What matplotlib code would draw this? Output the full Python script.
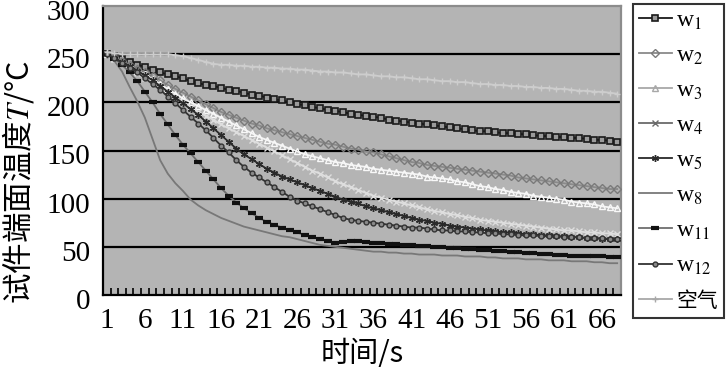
import matplotlib
matplotlib.use("Agg")
import matplotlib.pyplot as plt
from matplotlib.ticker import FixedLocator
from matplotlib.transforms import ScaledTranslation

plt.rcParams.update({
    "font.family": ["Liberation Serif", "Noto Sans CJK SC"],
    "mathtext.fontset": "stix",
})

# =========================
# Data
# =========================
t = list(range(1, 69))

w1 = [250, 248, 245, 242, 239, 237, 234, 231, 229, 227, 225, 222, 220, 218, 217, 215, 213,
      212, 210, 208, 207, 205, 203, 202, 200, 198, 197, 195, 194, 192, 191, 190, 188, 187,
      186, 185, 184, 182, 181, 180, 179, 178, 177, 176, 175, 174, 173, 172, 171, 170, 170,
      169, 168, 168, 167, 167, 166, 165, 165, 164, 164, 163, 163, 162, 161, 161, 160, 159]

w2 = [250, 247, 243, 239, 235, 231, 227, 223, 218, 214, 210, 206, 202, 198, 194, 190, 187,
      184, 181, 178, 176, 173, 171, 169, 167, 165, 163, 161, 159, 157, 156, 154, 152, 151,
      149, 148, 146, 144, 142, 140, 138, 137, 135, 134, 133, 132, 131, 130, 129, 128, 127,
      126, 125, 124, 122, 121, 120, 119, 118, 117, 116, 115, 114, 113, 112, 111, 110, 110]

w3 = [250, 246, 242, 238, 233, 229, 224, 219, 214, 209, 204, 200, 196, 192, 188, 184, 180,
      176, 172, 168, 164, 161, 158, 155, 152, 149, 146, 144, 142, 140, 138, 137, 135, 134,
      133, 131, 130, 129, 128, 127, 126, 125, 123, 122, 121, 120, 118, 117, 115, 113, 112,
      110, 109, 107, 106, 105, 103, 102, 101, 100, 99, 97, 96, 95, 94, 92, 91, 90]

w4 = [250, 245, 240, 235, 230, 225, 220, 215, 210, 205, 200, 195, 190, 186, 182, 177, 173,
      169, 165, 161, 157, 153, 149, 145, 141, 137, 133, 129, 126, 122, 118, 115, 112, 109,
      106, 103, 101, 99, 97, 95, 93, 91, 89, 87, 86, 84, 83, 81, 80, 78, 77,
      76, 75, 74, 73, 72, 71, 70, 69, 68, 67, 67, 66, 65, 65, 64, 64, 63]

w5 = [250, 246, 242, 238, 233, 228, 223, 217, 211, 205, 199, 193, 187, 180, 173, 166, 159,
      152, 146, 141, 136, 131, 127, 123, 120, 117, 114, 111, 108, 105, 102, 99, 97, 95,
      92, 90, 88, 86, 84, 82, 80, 78, 77, 75, 74, 72, 71, 70, 69, 68, 67,
      66, 65, 65, 64, 63, 63, 62, 62, 61, 61, 60, 60, 59, 59, 58, 58, 58]

w8 = [250, 243, 232, 216, 201, 184, 162, 140, 126, 116, 108, 99, 93, 88, 84, 80, 77,
      74, 71, 69, 67, 65, 63, 61, 60, 58, 56, 54, 52, 51, 50, 49, 48, 47,
      46, 45, 45, 44, 44, 43, 43, 42, 42, 42, 41, 41, 41, 40, 40, 40, 39,
      39, 38, 38, 38, 37, 37, 37, 36, 36, 36, 35, 35, 35, 34, 34, 33, 33]

w11 = [250, 245, 239, 231, 222, 211, 200, 188, 177, 166, 156, 147, 138, 129, 120, 111, 103,
       96, 90, 85, 80, 76, 73, 70, 67, 65, 62, 60, 58, 56, 54, 55, 56, 56,
       55, 54, 54, 53, 53, 52, 52, 51, 51, 50, 50, 49, 49, 48, 48, 47, 47,
       46, 46, 45, 45, 44, 44, 43, 43, 42, 42, 41, 41, 40, 40, 40, 39, 39]

w12 = [250, 246, 241, 236, 231, 225, 219, 213, 206, 199, 192, 185, 178, 171, 163, 155, 148,
       140, 133, 127, 122, 117, 112, 107, 102, 98, 95, 92, 89, 86, 83, 80, 78, 77,
       76, 75, 74, 73, 72, 71, 70, 70, 69, 68, 67, 67, 66, 66, 65, 65, 64,
       64, 63, 63, 62, 62, 62, 61, 61, 61, 60, 60, 60, 59, 59, 59, 58, 58]

air = [252, 251, 250, 250, 250, 250, 250, 250, 250, 249, 248, 246, 244, 242, 240, 239, 239,
       238, 238, 237, 237, 236, 236, 235, 235, 234, 234, 233, 232, 232, 231, 231, 230, 229,
       229, 228, 227, 227, 226, 226, 225, 224, 224, 223, 222, 222, 221, 221, 220, 219, 219,
       218, 218, 217, 217, 216, 216, 215, 215, 214, 214, 213, 212, 212, 211, 211, 210, 209]

x_ticks = list(range(1, 67, 5))
y_ticks = [0, 50, 100, 150, 200, 250, 300]

# =========================
# Figure
# =========================
fig = plt.figure(figsize=(7.28, 3.71), dpi=100)
ax = fig.add_axes([103 / 728, 1 - 295 / 371, 518 / 728, 289 / 371])
ax.set_facecolor("#b4b4b4")

for yv in y_ticks[1:-1]:
    ax.axhline(yv, color="black", lw=1.6, zorder=1)

series = [
    (w1, r"w$_{1}$", dict(color="#1a1a1a", marker="s", ms=4.5, mfc="#9a9a9a", mec="#1a1a1a", mew=1.2)),
    (w2, r"w$_{2}$", dict(color="#8a8a8a", marker="D", ms=4, mfc="none", mec="#7a7a7a", mew=1.0)),
    (w3, r"w$_{3}$", dict(color="#f4f4f4", marker="^", ms=4.5, mfc="none", mec="#f8f8f8", mew=1.0)),
    (w4, r"w$_{4}$", dict(color="#dedede", marker="x", ms=4.5, mew=1.0)),
    (w5, r"w$_{5}$", dict(color="#2a2a2a", marker=(6, 2, 0), ms=5, mew=1.0)),
    (w8, r"w$_{8}$", dict(color="#787878")),
    (w11, r"w$_{11}$", dict(color="#6e6e6e", marker="_", ms=6, mec="#111111", mew=3)),
    (w12, r"w$_{12}$", dict(color="#333333", marker="o", ms=3.5, mfc="#8a8a8a", mec="#333333", mew=1.0)),
    (air, "空气", dict(color="#cdcdcd", marker="+", ms=5, mew=1.0)),
]

handles = []
for vals, name, style in series:
    h, = ax.plot(t, vals, lw=1.3, label=name, zorder=3, **style)
    handles.append(h)

ax.set_xlim(0.5, 68.5)
ax.set_ylim(0, 300)
ax.set_xticks(x_ticks)
ax.set_yticks(y_ticks)
ax.xaxis.set_minor_locator(FixedLocator([k + 0.5 for k in range(0, 68)]))
ax.tick_params(axis="x", which="major", length=0, pad=9, labelsize=21)
ax.tick_params(axis="x", which="minor", direction="in", length=5, width=1.2, color="black")
ax.tick_params(axis="y", length=0, pad=9, labelsize=21)

# labels sit a little below their gridlines, as in the source
shift = ScaledTranslation(0, -4 / 100, fig.dpi_scale_trans)
for lab in ax.get_yticklabels():
    lab.set_transform(lab.get_transform() + shift)

for side in ["left", "bottom"]:
    ax.spines[side].set_color("black")
    ax.spines[side].set_linewidth(1.6)
for side in ["top", "right"]:
    ax.spines[side].set_color("#8c8c8c")
    ax.spines[side].set_linewidth(1.6)

ax.set_xlabel("时间/s", fontsize=21, labelpad=4,
              family=["Noto Sans CJK SC", "Liberation Serif"])
ax.set_ylabel("试件端面温度$T$/°C", fontsize=22,
              family=["Noto Sans CJK SC", "Liberation Serif"])
ax.yaxis.set_label_coords(-0.13, 0.39)

leg = fig.legend(handles=handles, loc="upper right", bbox_to_anchor=(724 / 728, 1 - 4 / 371),
                 frameon=True, fancybox=False, handlelength=1.4,
                 handletextpad=0.2, labelspacing=0.56, borderpad=0.25, borderaxespad=0,
                 prop={"family": ["Liberation Serif", "Noto Sans CJK SC"], "size": 17})
leg.get_texts()[-1].set_fontsize(15)
leg.get_frame().set_edgecolor("black")
leg.get_frame().set_linewidth(1.5)

# the pale series need darker swatches on the white legend box
for idx, col in [(2, "#a8a8a8"), (3, "#6a6a6a"), (8, "#a8a8a8")]:
    lh = leg.legend_handles[idx]
    lh.set_color(col)
    lh.set_markeredgecolor(col)

fig.savefig("out.png", dpi=100)
